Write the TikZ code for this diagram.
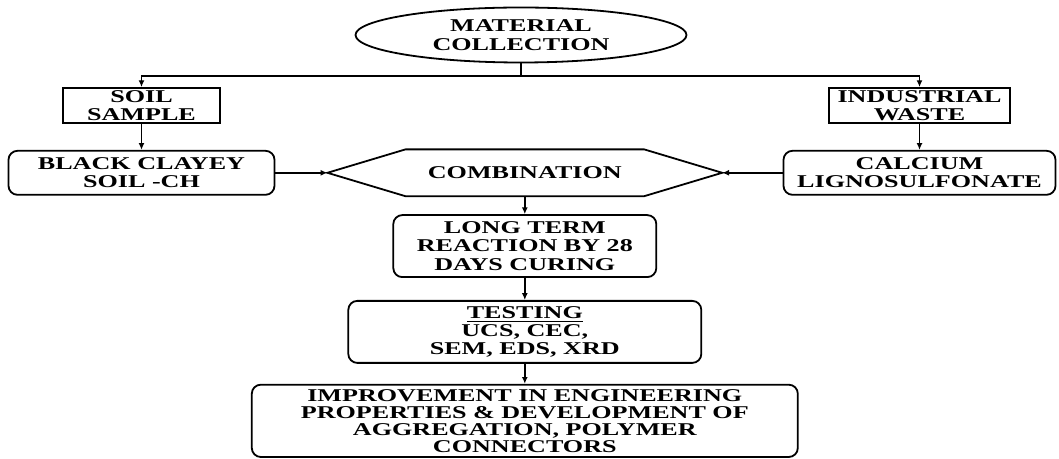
\documentclass[tikz,border=0pt]{standalone}
\usepackage{fontspec}
\setmainfont{Liberation Serif}[FakeStretch=1.45]
\usetikzlibrary{shapes.geometric,positioning,calc,arrows.meta}

\begin{document}
\begin{tikzpicture}[x=0.5pt,y=-0.5pt,>={Latex[length=3.4pt,width=3pt]},
    every node/.style={align=center,inner sep=0pt,font=\fontsize{9}{9.2}\selectfont\bfseries},
    flow/.style={line width=0.9pt},
    sqbox/.style={draw,line width=0.9pt},
    rndbox/.style={draw,line width=0.9pt,rounded corners=4.5pt}]

                \useasboundingbox (0,0) rectangle (1059,459);

                \node[ellipse,draw,line width=0.9pt,minimum width=165.5pt,minimum height=27.5pt] (coll) at (521,35) {MATERIAL\\COLLECTION};

                \node[sqbox,minimum width=78.5pt,minimum height=17.5pt] (soil) at (141.5,105.5) {SOIL\\SAMPLE};
                \node[sqbox,minimum width=90.5pt,minimum height=17.5pt] (indw) at (919.5,105.5) {INDUSTRIAL\\WASTE};
                \node[rndbox,below=13pt of soil,minimum width=133pt,minimum height=22pt] (clay) {BLACK CLAYEY\\SOIL -CH} edge[flow,<-] (soil);
                \node[rndbox,below=13pt of indw,minimum width=136pt,minimum height=22pt] (calc) {CALCIUM\\LIGNOSULFONATE} edge[flow,<-] (indw);

                \node[right=26pt of clay,minimum width=197pt,minimum height=23pt] (comb) {COMBINATION};
                \draw[flow] (comb.west) -- ([xshift=39pt]comb.north west) -- ([xshift=-39pt]comb.north east) -- (comb.east)
                    -- ([xshift=-39pt]comb.south east) -- ([xshift=39pt]comb.south west) -- cycle;

                \node[rndbox,below=9pt of comb,minimum width=131.5pt,minimum height=31pt] (long) {LONG TERM\\REACTION BY 28\\DAYS CURING} edge[flow,<-] (comb);
                \node[rndbox,below=11pt of long,minimum width=176.5pt,minimum height=31pt] (test) {\underline{TESTING}\\UCS, CEC,\\SEM, EDS, XRD} edge[flow,<-] (long);
                \node[rndbox,below=10pt of test,minimum width=273pt,inner ysep=2.3pt,font=\fontsize{9}{8.5}\selectfont\bfseries] (impr) {IMPROVEMENT IN ENGINEERING\\PROPERTIES \& DEVELOPMENT OF\\AGGREGATION, POLYMER\\CONNECTORS} edge[flow,<-] (test);

                % split from the collection to both samples
                \draw[flow] (coll.south) -- ++(0,13) coordinate (split);
                \draw[flow,->] (split) -| (soil);
                \draw[flow,->] (split) -| (indw);
                \draw[flow,->] (clay) -- (comb.west);
                \draw[flow,->] (calc) -- (comb.east);

            \end{tikzpicture}
\end{document}
